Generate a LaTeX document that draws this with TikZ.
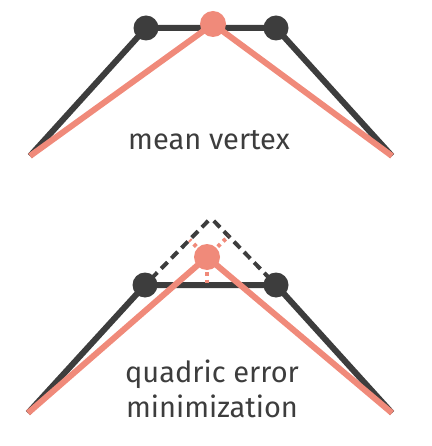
\documentclass[tikz,border=0pt]{standalone}
\usepackage{fontspec}
\setmainfont{Fira Sans}

\definecolor{edgegray}{RGB}{61,61,61}
\definecolor{salmon}{RGB}{240,138,122}

\begin{document}
\begin{tikzpicture}[x=1pt,y=-1pt]
   \tikzstyle{vert}=[draw=none, circle, fill=edgegray, inner sep=0pt, minimum size=25pt]
   \tikzstyle{newvert}=[vert, fill=salmon, minimum size=26pt]
   \tikzstyle{edge}=[draw=edgegray, line width=6pt]
   \tikzstyle{newedge}=[draw=salmon, line width=6pt]
   \tikzstyle{oldedge}=[draw=edgegray, line width=4pt, dash pattern=on 9pt off 5.5pt, dash phase=-4pt]
   \tikzstyle{dist}=[draw=salmon, line width=4pt, dash pattern=on 3.5pt off 4pt]
   \tikzstyle{caption}=[text=edgegray, font=\fontsize{29}{35}\selectfont, align=center, inner sep=0pt]

\useasboundingbox (0,0) rectangle (431,446);

% mean vertex
\coordinate (a0) at (30,156);
\coordinate (a3) at (392,156);
\path (146,28) coordinate (a1p) (276,28) coordinate (a2p);
\draw[edge] (a0) -- (a1p) -- (a2p) -- (a3);
\draw[newedge] (a0) -- (213,24) -- (a3);
\node[vert] (a1) at (a1p) {};
\node[vert] (a2) at (a2p) {};
\node[newvert] (am) at (213,24) {};
\node[caption, anchor=base] (alabel) at (209,150) {mean vertex};

% quadric error minimization
\coordinate (b0) at (28,413);
\coordinate (b3) at (392,413);
\coordinate (btop) at (211,218);
\path (145,285) coordinate (b1p) (276,285) coordinate (b2p) (207,257) coordinate (bmp);
\draw[oldedge] (btop) -- (b1p);
\draw[oldedge] (btop) -- (b2p);
\draw[edge] (b0) -- (b1p) -- (b2p) -- (b3);
\coordinate (f1) at (189.5,239.8);
\coordinate (f2) at (228.6,236.1);
\coordinate (f3) at (207,285);
\draw[dist] (bmp) -- (f1);
\draw[dist] (bmp) -- (f2);
\draw[dist] (bmp) -- (f3);
\draw[newedge] (b0) -- (bmp) -- (b3);
\node[vert] (b1) at (b1p) {};
\node[vert] (b2) at (b2p) {};
\node[newvert] (bm) at (bmp) {};
\node[caption] (blabel) at (212,389) {quadric error\\minimization};

\end{tikzpicture}
\end{document}
